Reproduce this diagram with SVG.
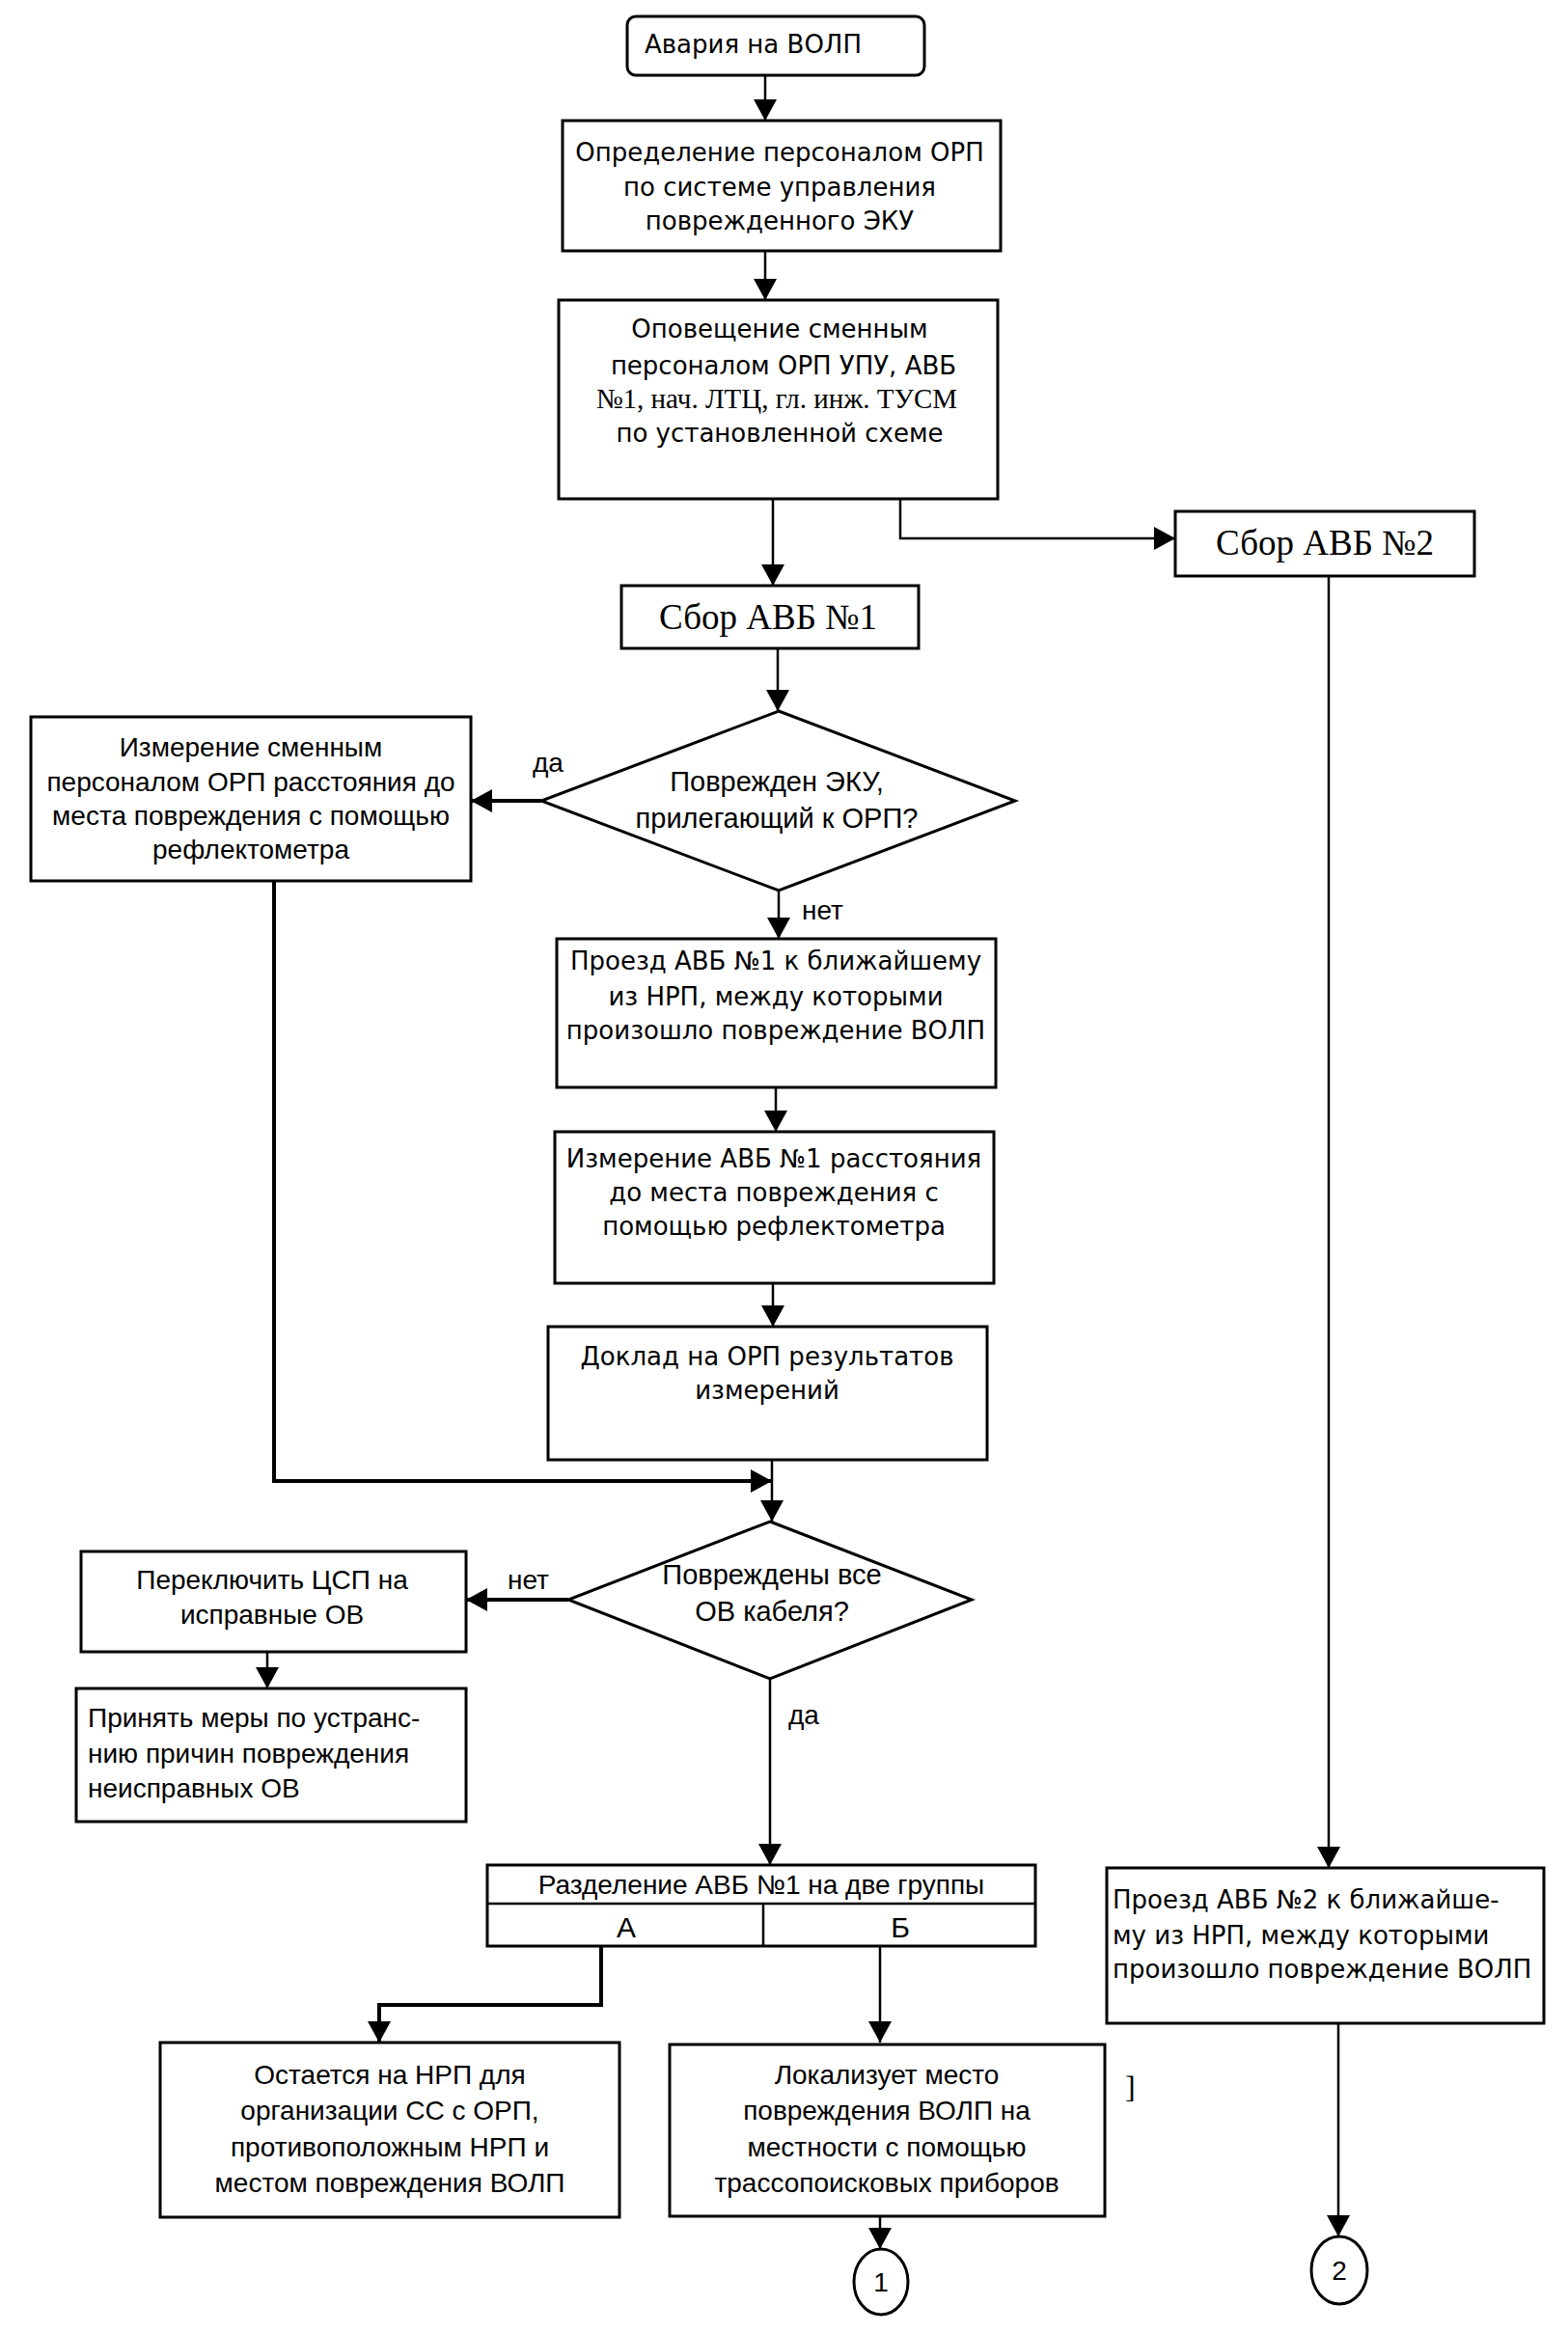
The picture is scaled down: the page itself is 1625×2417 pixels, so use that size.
<svg xmlns="http://www.w3.org/2000/svg" width="1625" height="2417" viewBox="0 0 1625 2417">
<style>
.box{fill:#fff;stroke:#000;stroke-width:3}
.ln{fill:none;stroke:#000;stroke-width:2.5}
.thk{fill:none;stroke:#000;stroke-width:4}
.v{font-family:"DejaVu Sans",sans-serif;font-size:26px;fill:#000}
.a{font-family:"Liberation Sans",Arial,sans-serif;font-size:28px;fill:#000}
.d{font-family:"Liberation Sans",Arial,sans-serif;font-size:29px;fill:#000}
.t{font-family:"Liberation Serif","Times New Roman",serif;font-size:37px;fill:#000}
.c{text-anchor:middle}
</style>
<defs>
<marker id="ar" viewBox="0 0 22 24" refX="22" refY="12" markerWidth="22" markerHeight="24" markerUnits="userSpaceOnUse" orient="auto">
<path d="M0,0 L22,12 L0,24 z" fill="#000"/>
</marker>
</defs>
<rect width="1625" height="2417" fill="#fff"/>

<g id="connectors">
<path class="ln" d="M793,78 V125" marker-end="url(#ar)"/>
<path class="ln" d="M793,260 V311" marker-end="url(#ar)"/>
<path class="ln" d="M801,517 V607" marker-end="url(#ar)"/>
<path class="ln" d="M933,517 V558 H1218" marker-end="url(#ar)"/>
<path class="ln" d="M1377,597 V1936" marker-end="url(#ar)"/>
<path class="ln" d="M806,672 V737" marker-end="url(#ar)"/>
<path class="thk" d="M561,830 H488" marker-end="url(#ar)"/>
<path class="ln" d="M807,923 V973" marker-end="url(#ar)"/>
<path class="ln" d="M804,1127 V1173" marker-end="url(#ar)"/>
<path class="ln" d="M801,1330 V1375" marker-end="url(#ar)"/>
<path class="thk" d="M284,913 V1535 H800" marker-end="url(#ar)"/>
<path class="ln" d="M800,1513 V1577" marker-end="url(#ar)"/>
<path class="thk" d="M589,1658 H483" marker-end="url(#ar)"/>
<path class="ln" d="M277,1712 V1750" marker-end="url(#ar)"/>
<path class="ln" d="M798,1740 V1933" marker-end="url(#ar)"/>
<path class="thk" d="M623,2017 V2078 H393 V2117" marker-end="url(#ar)"/>
<path class="ln" d="M912,2017 V2117" marker-end="url(#ar)"/>
<path class="ln" d="M912,2297 V2331" marker-end="url(#ar)"/>
<path class="ln" d="M1387,2097 V2318" marker-end="url(#ar)"/>
<text class="a" x="552" y="800">да</text>
<text class="a" x="831" y="953">нет</text>
<text class="a" x="526" y="1647">нет</text>
<text class="a" x="817" y="1787">да</text>
</g>

<g id="n1">
<rect class="box" x="650" y="17" width="308" height="61" rx="9"/>
<text class="v" x="668" y="55">Авария на ВОЛП</text>
</g>

<g id="n2">
<rect class="box" x="583" y="125" width="454" height="135"/>
<text class="v c" x="808" y="167">Определение персоналом ОРП</text>
<text class="v c" x="808" y="203">по системе управления</text>
<text class="v c" x="808" y="238">поврежденного ЭКУ</text>
</g>

<g id="n3">
<rect class="box" x="579" y="311" width="455" height="206"/>
<text class="v c" x="808" y="350">Оповещение сменным</text>
<text class="v c" x="812" y="388">персоналом ОРП УПУ, АВБ</text>
<text class="t c" x="805" y="423" style="font-size:29px">№1, нач. ЛТЦ, гл. инж. ТУСМ</text>
<text class="v c" x="808" y="458">по установленной схеме</text>
</g>

<g id="n4">
<rect class="box" x="644" y="607" width="308" height="65"/>
<text class="t c" x="796" y="652">Сбор АВБ №1</text>
</g>

<g id="n5">
<rect class="box" x="1218" y="530" width="310" height="67"/>
<text class="t c" x="1373" y="575">Сбор АВБ №2</text>
</g>

<g id="n6">
<polygon class="box" points="807,737 1052,830 807,923 561,830"/>
<text class="d c" x="805" y="820">Поврежден ЭКУ,</text>
<text class="d c" x="805" y="858">прилегающий к ОРП?</text>
</g>

<g id="n7">
<rect class="box" x="32" y="743" width="456" height="170"/>
<text class="a c" x="260" y="784">Измерение сменным</text>
<text class="a c" x="260" y="820">персоналом ОРП расстояния до</text>
<text class="a c" x="260" y="855">места повреждения с помощью</text>
<text class="a c" x="260" y="890">рефлектометра</text>
</g>

<g id="n8">
<rect class="box" x="577" y="973" width="455" height="154"/>
<text class="v c" x="804" y="1005">Проезд АВБ №1 к ближайшему</text>
<text class="v c" x="804" y="1042">из НРП, между которыми</text>
<text class="v c" x="804" y="1077">произошло повреждение ВОЛП</text>
</g>

<g id="n9">
<rect class="box" x="575" y="1173" width="455" height="157"/>
<text class="v c" x="802" y="1210">Измерение АВБ №1 расстояния</text>
<text class="v c" x="802" y="1245">до места повреждения с</text>
<text class="v c" x="802" y="1280">помощью рефлектометра</text>
</g>

<g id="n10">
<rect class="box" x="568" y="1375" width="455" height="138"/>
<text class="v c" x="795" y="1415">Доклад на ОРП  результатов</text>
<text class="v c" x="795" y="1450">измерений</text>
</g>

<g id="n11">
<polygon class="box" points="798,1577 1007,1658 798,1740 589,1658"/>
<text class="d c" x="800" y="1642">Повреждены все</text>
<text class="d c" x="800" y="1680">ОВ кабеля?</text>
</g>

<g id="n12">
<rect class="box" x="84" y="1608" width="399" height="104"/>
<text class="a c" x="282" y="1647">Переключить ЦСП на</text>
<text class="a c" x="282" y="1683">исправные ОВ</text>
</g>

<g id="n13">
<rect class="box" x="79" y="1750" width="404" height="138"/>
<text class="a" x="91" y="1790">Принять меры по устранс-</text>
<text class="a" x="91" y="1827">нию причин повреждения</text>
<text class="a" x="91" y="1863">неисправных ОВ</text>
</g>

<g id="n14">
<rect class="box" x="505" y="1933" width="568" height="84"/>
<path class="ln" d="M505,1973 H1073 M791,1973 V2017"/>
<text class="a c" x="789" y="1963">Разделение АВБ №1 на две группы</text>
<text class="a c" x="649" y="2008" style="font-size:30px">А</text>
<text class="a c" x="933" y="2008" style="font-size:30px">Б</text>
</g>

<g id="n15">
<rect class="box" x="166" y="2117" width="476" height="181"/>
<text class="a c" x="404" y="2160">Остается на НРП для</text>
<text class="a c" x="404" y="2197">организации СС с ОРП,</text>
<text class="a c" x="404" y="2235">противоположным НРП и</text>
<text class="a c" x="404" y="2272">местом повреждения ВОЛП</text>
</g>

<g id="n16">
<rect class="box" x="694" y="2119" width="451" height="178"/>
<text class="a c" x="919" y="2160">Локализует место</text>
<text class="a c" x="919" y="2197">повреждения ВОЛП на</text>
<text class="a c" x="919" y="2235">местности с помощью</text>
<text class="a c" x="919" y="2272">трассопоисковых приборов</text>
<text class="t" x="1166" y="2174" style="font-size:32px">]</text>
</g>

<g id="n17">
<rect class="box" x="1147" y="1936" width="453" height="161"/>
<text class="v" x="1153" y="1978">Проезд АВБ №2 к ближайше-</text>
<text class="v" x="1153" y="2015">му из НРП, между которыми</text>
<text class="v" x="1153" y="2050">произошло повреждение ВОЛП</text>
</g>

<g id="n18">
<ellipse class="box" cx="913" cy="2365" rx="28" ry="34"/>
<text class="a c" x="913" y="2375">1</text>
</g>

<g id="n19">
<ellipse class="box" cx="1388" cy="2353" rx="29" ry="35"/>
<text class="a c" x="1388" y="2363">2</text>
</g>
</svg>
